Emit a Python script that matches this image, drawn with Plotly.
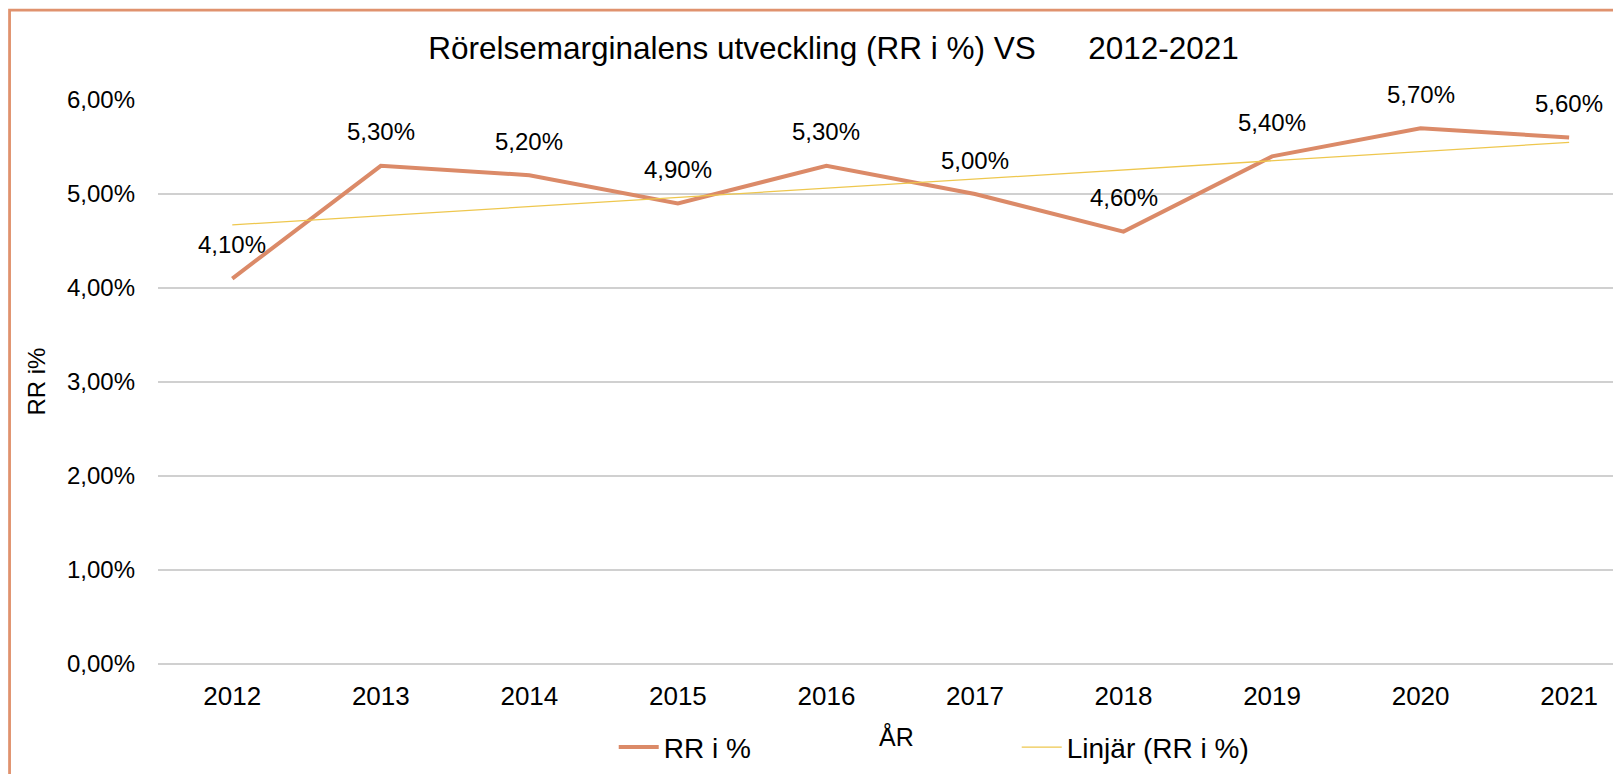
import numpy as np
import plotly.graph_objects as go

# ---- data ----
years = ["2012", "2013", "2014", "2015", "2016", "2017", "2018", "2019", "2020", "2021"]
rr_percent = [4.10, 5.30, 5.20, 4.90, 5.30, 5.00, 4.60, 5.40, 5.70, 5.60]
y_tick_vals = [0, 1, 2, 3, 4, 5, 6]
y_tick_text = ["0,00%", "1,00%", "2,00%", "3,00%", "4,00%", "5,00%", "6,00%"]
series_name = "RR i %"
trend_name = "Linjär (RR i %)"
title_text = "Rörelsemarginalens utveckling (RR i %) VS\u00a0\u00a0\u00a0\u00a0\u00a0 2012-2021"
x_title = "ÅR"
y_title = "RR i%"

# ---- layout geometry (pixels, page coords minus body offset) ----
OFF = 8
W, H = 1621, 774
PL, PT, PB = 158.4 - OFF, 100.3 - OFF, 663.7 - OFF
STEP = 148.5
PW = W - PL
PH = PB - PT

FONT = "Liberation Sans, Arial, sans-serif"
LINE_COLOR = "#DB8A68"
TREND_COLOR = "#EEC74E"
BORDER_COLOR = "#E0926E"

xi = np.arange(len(years))
coef = np.polyfit(xi, rr_percent, 1)
trend = np.polyval(coef, xi)

def px_x(px):
    return (px - OFF - PL) / PW

def px_y(py):
    return (PB - (py - OFF)) / PH

fig = go.Figure()
fig.add_trace(go.Scatter(
    x=years, y=rr_percent, mode="lines", name=series_name,
    line=dict(color=LINE_COLOR, width=4),
))
fig.add_trace(go.Scatter(
    x=years, y=list(trend), mode="lines", name=trend_name,
    line=dict(color=TREND_COLOR, width=1.3),
))

annotations = []
for i, v in enumerate(rr_percent):
    annotations.append(dict(
        x=i, y=v, xref="x", yref="y",
        text=f"{v:.2f}%".replace(".", ","),
        showarrow=False, yshift=34,
        font=dict(family=FONT, size=24, color="#000"),
    ))
annotations.append(dict(
    x=px_x(897), y=px_y(736), xref="paper", yref="paper",
    text=x_title, showarrow=False, xanchor="center", yanchor="middle",
    font=dict(family=FONT, size=25, color="#000"),
))
annotations.append(dict(
    x=px_x(36), y=0.5, xref="paper", yref="paper",
    text=y_title, showarrow=False, textangle=-90,
    xanchor="center", yanchor="middle",
    font=dict(family=FONT, size=24, color="#000"),
))

x_right = -0.5 + PW / STEP

fig.update_layout(
    width=W, height=H,
    margin=dict(l=PL, r=0, t=PT, b=H - PB, pad=0),
    paper_bgcolor="white", plot_bgcolor="white",
    font=dict(family=FONT, color="#000"),
    title=dict(
        text=title_text, x=(833.5 - OFF) / W, y=1 - (48 - OFF) / H,
        xref="container", yref="container",
        xanchor="center", yanchor="middle",
        font=dict(family=FONT, size=31.5, color="#000"),
    ),
    xaxis=dict(
        type="category", range=[-0.5, x_right],
        showgrid=False, zeroline=False, showline=False, ticks="",
        tickfont=dict(family=FONT, size=26, color="#000"),
        ticklabelstandoff=14,
    ),
    yaxis=dict(
        range=[0, 6], tickvals=y_tick_vals, ticktext=y_tick_text,
        showgrid=True, gridcolor="#D0D0D0", gridwidth=1.6,
        zeroline=True, zerolinecolor="#D0D0D0", zerolinewidth=1.6,
        showline=False, ticks="",
        tickfont=dict(family=FONT, size=24, color="#000"),
        ticklabelstandoff=22,
    ),
    showlegend=True,
    legend=dict(
        orientation="h", x=px_x(614), y=px_y(747), xanchor="left", yanchor="middle",
        font=dict(family=FONT, size=28, color="#000"),
        entrywidth=348, entrywidthmode="pixels",
        bgcolor="rgba(0,0,0,0)", itemwidth=40,
    ),
    annotations=annotations,
    shapes=[dict(
        type="path", xref="paper", yref="paper",
        path=f"M {px_x(10)} {px_y(800)} L {px_x(10)} {px_y(10.5)} L {px_x(1700)} {px_y(10.5)}",
        line=dict(color=BORDER_COLOR, width=2.8), layer="above",
    )],
)

fig.write_html("out.html")
